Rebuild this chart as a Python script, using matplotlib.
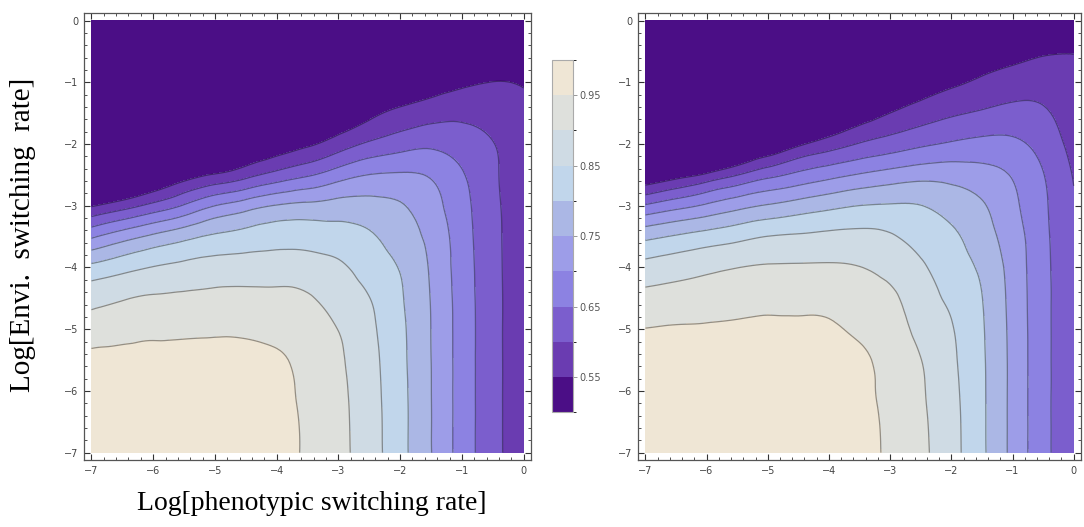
import numpy as np
import matplotlib
matplotlib.use('Agg')
import matplotlib.pyplot as plt
import matplotlib.tri as mtri
from matplotlib.colors import ListedColormap, BoundaryNorm
from matplotlib.colorbar import ColorbarBase
from matplotlib.ticker import MultipleLocator

# grid the values were read on (log of the two switching rates)
phen = [-7, -6.5, -6, -5.5, -5, -4.5, -4, -3.5, -3, -2.5, -2, -1.5, -1, -0.5, 0]
envi = [0, -0.5, -1, -1.5, -2, -2.5, -3, -3.5, -4, -4.5, -5, -5.5, -6, -6.5, -7]

# one inner list per phen value (column), envi = 0 at top down to envi = -7
left_cols = [
    [0.40, 0.40, 0.40, 0.40, 0.40, 0.412, 0.545, 0.693, 0.813, 0.884, 0.925, 0.961, 0.968, 0.974, 0.979],
    [0.40, 0.40, 0.40, 0.40, 0.40, 0.447, 0.578, 0.729, 0.834, 0.897, 0.931, 0.965, 0.970, 0.974, 0.978],
    [0.40, 0.40, 0.40, 0.40, 0.40, 0.482, 0.615, 0.760, 0.852, 0.905, 0.937, 0.968, 0.972, 0.975, 0.977],
    [0.40, 0.40, 0.40, 0.40, 0.40, 0.521, 0.655, 0.786, 0.8625, 0.9085, 0.939, 0.9696, 0.973, 0.975, 0.976],
    [0.40, 0.40, 0.40, 0.40, 0.44, 0.5545, 0.700, 0.8076, 0.871, 0.912, 0.941, 0.971, 0.974, 0.975, 0.976],
    [0.40, 0.40, 0.40, 0.40, 0.479, 0.584, 0.728, 0.819, 0.8746, 0.912, 0.940, 0.968, 0.972, 0.973, 0.974],
    [0.40, 0.40, 0.40, 0.41, 0.51, 0.617, 0.753, 0.829, 0.877, 0.910, 0.934, 0.957, 0.962, 0.964, 0.965],
    [0.40, 0.40, 0.40, 0.456, 0.5415, 0.644, 0.762, 0.830, 0.8726, 0.905, 0.925, 0.935, 0.940, 0.943, 0.9435],
    [0.40, 0.40, 0.405, 0.49, 0.575, 0.677, 0.769, 0.823, 0.858, 0.879, 0.899, 0.907, 0.911, 0.913, 0.9137],
    [0.40, 0.40, 0.466, 0.536, 0.608, 0.701, 0.767, 0.807, 0.831, 0.851, 0.861, 0.867, 0.870, 0.872, 0.873],
    [0.40, 0.4375, 0.50, 0.5625, 0.629, 0.7056, 0.754, 0.776, 0.797, 0.806, 0.811, 0.813, 0.815, 0.816, 0.816],
    [0.40, 0.46, 0.52, 0.580, 0.640, 0.695, 0.720, 0.736, 0.744, 0.748, 0.7495, 0.7503, 0.7508, 0.7512, 0.7514],
    [0.444, 0.492, 0.54, 0.588, 0.625, 0.655, 0.667, 0.673, 0.676, 0.678, 0.679, 0.679, 0.679, 0.679, 0.679],
    [0.497, 0.524, 0.5505, 0.576, 0.602, 0.609, 0.613, 0.615, 0.616, 0.617, 0.617, 0.617, 0.617, 0.617, 0.617],
    [0.50, 0.525, 0.547, 0.557, 0.561, 0.563, 0.564, 0.565, 0.565, 0.565, 0.565, 0.565, 0.565, 0.565, 0.565],
]

right_cols = [
    [0.40, 0.40, 0.40, 0.40, 0.40, 0.498, 0.656, 0.7875, 0.8674, 0.9157, 0.951, 0.970, 0.979, 0.985, 0.988],
    [0.40, 0.40, 0.40, 0.40, 0.40, 0.527, 0.683, 0.805, 0.8786, 0.9216, 0.954, 0.971, 0.979, 0.985, 0.9875],
    [0.40, 0.40, 0.40, 0.40, 0.404, 0.559, 0.708, 0.8207, 0.890, 0.927, 0.955, 0.971, 0.979, 0.984, 0.986],
    [0.40, 0.40, 0.40, 0.40, 0.453, 0.5985, 0.734, 0.8356, 0.8994, 0.931, 0.958, 0.972, 0.979, 0.983, 0.985],
    [0.40, 0.40, 0.40, 0.40, 0.494, 0.635, 0.7545, 0.851, 0.904, 0.935, 0.960, 0.972, 0.978, 0.981, 0.983],
    [0.40, 0.40, 0.40, 0.42, 0.540, 0.662, 0.7717, 0.8563, 0.905, 0.9355, 0.959, 0.970, 0.976, 0.979, 0.980],
    [0.40, 0.40, 0.40, 0.470, 0.575, 0.684, 0.7875, 0.8615, 0.9054, 0.9326, 0.957, 0.966, 0.971, 0.974, 0.975],
    [0.40, 0.40, 0.424, 0.514, 0.6033, 0.704, 0.8005, 0.8633, 0.901, 0.9214, 0.9415, 0.958, 0.960, 0.963, 0.965],
    [0.40, 0.40, 0.47, 0.5505, 0.623, 0.720, 0.8043, 0.8548, 0.885, 0.910, 0.924, 0.933, 0.938, 0.941, 0.942],
    [0.40, 0.45, 0.5125, 0.575, 0.6417, 0.732, 0.801, 0.8325, 0.8568, 0.8715, 0.886, 0.901, 0.906, 0.909, 0.911],
    [0.429, 0.484, 0.539, 0.5935, 0.656, 0.731, 0.781, 0.8095, 0.8265, 0.842, 0.853, 0.859, 0.863, 0.866, 0.867],
    [0.469, 0.514, 0.559, 0.6058, 0.665, 0.719, 0.755, 0.772, 0.790, 0.801, 0.805, 0.807, 0.808, 0.8085, 0.809],
    [0.492, 0.532, 0.5726, 0.616, 0.661, 0.6965, 0.712, 0.724, 0.731, 0.734, 0.736, 0.737, 0.737, 0.737, 0.737],
    [0.512, 0.545, 0.577, 0.607, 0.631, 0.652, 0.659, 0.663, 0.665, 0.666, 0.666, 0.666, 0.666, 0.666, 0.666],
    [0.538, 0.549, 0.561, 0.572, 0.584, 0.597, 0.603, 0.606, 0.608, 0.609, 0.610, 0.610, 0.610, 0.610, 0.610],
]

levels = [0.50, 0.55, 0.60, 0.65, 0.70, 0.75, 0.80, 0.85, 0.90, 0.95, 1.00]
bar_ticks = [0.55, 0.65, 0.75, 0.85, 0.95]
band_colors = ['#4b0e86', '#6a3cb1', '#7b5ecd', '#8c82e2', '#9d9de8',
               '#abb7e5', '#c1d6eb', '#cfdbe4', '#dee0dc', '#efe6d5']

fig = plt.figure(figsize=(10.84, 5.27), dpi=100)


def panel(rect, cols):
    ax = fig.add_axes(rect)
    xx, yy = np.meshgrid(phen, envi)
    z = np.array(cols).T
    tri = mtri.Triangulation(xx.ravel(), yy.ravel())
    # let matplotlib smooth the read grid so the contours come out round
    tri_f, z_f = mtri.UniformTriRefiner(tri).refine_field(z.ravel(), subdiv=3)
    fill_lv = [0.0] + levels[1:]
    cf = ax.tricontourf(tri_f, z_f, levels=fill_lv, colors=band_colors)
    cf.set_edgecolor('face')
    cf.set_linewidth(0.3)
    ax.tricontour(tri_f, z_f, levels=levels[1:-1], colors='k',
                  linewidths=0.9, alpha=0.38)
    ax.set_xlim(-7.12, 0.12)
    ax.set_ylim(-7.12, 0.12)
    ax.xaxis.set_major_locator(MultipleLocator(1))
    ax.yaxis.set_major_locator(MultipleLocator(1))
    ax.xaxis.set_minor_locator(MultipleLocator(0.2))
    ax.yaxis.set_minor_locator(MultipleLocator(0.2))
    ax.tick_params(which='both', direction='in', top=True, right=True,
                   color='#333333', labelsize=7, labelcolor='#444444', pad=4)
    ax.tick_params(which='major', length=4.5, width=0.8)
    ax.tick_params(which='minor', length=2.2, width=0.6)
    for s in ax.spines.values():
        s.set_color('#555555')
        s.set_linewidth(0.9)
    return ax


ax1 = panel([0.0775, 0.127, 0.4124, 0.848], left_cols)
ax2 = panel([0.5886, 0.127, 0.4087, 0.848], right_cols)

# legend bar between the panels
cax = fig.add_axes([0.509, 0.218, 0.0194, 0.668])
cb = ColorbarBase(cax, cmap=ListedColormap(band_colors),
                  norm=BoundaryNorm(levels, len(band_colors)),
                  boundaries=levels, ticks=bar_ticks, orientation='vertical')
cb.set_ticklabels(['%.2f' % t for t in bar_ticks])
cb.outline.set_edgecolor('#aaaaaa')
cb.outline.set_linewidth(0.8)
cax.tick_params(direction='out', length=3, width=0.6, color='#888888',
                labelsize=7, labelcolor='#555555', pad=1.5)

fig.text(0.021, 0.554, 'Log[Envi.  switching  rate]', rotation=90,
         family='Liberation Serif', fontsize=21, ha='center', va='center')
fig.text(0.288, 0.045, 'Log[phenotypic switching rate]',
         family='Liberation Serif', fontsize=20, ha='center', va='center')

fig.savefig('out.png', dpi=100)
